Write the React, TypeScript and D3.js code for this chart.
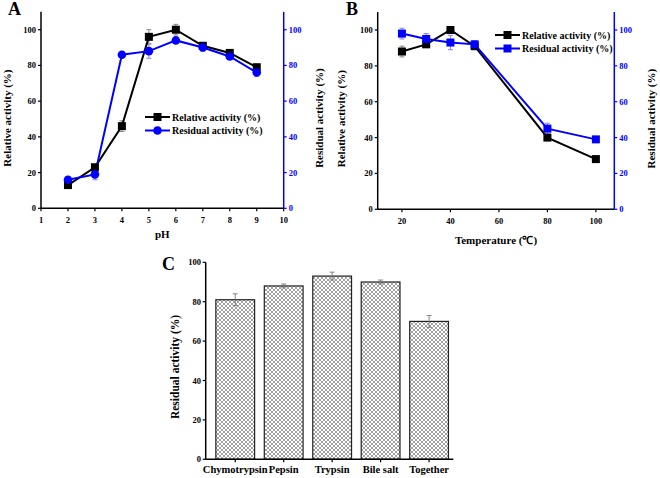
import React from "react";
import * as d3 from "d3";

// Panel A data
const phValues = [2, 3, 4, 5, 6, 7, 8, 9];
const phRelative = [13, 23, 46, 96, 100, 91, 87, 79];
const phRelativeErr = [1.5, 1.5, 3, 4, 3, 1.5, 1.5, 1.5];
const phResidual = [16, 19, 86, 88, 94, 90, 85, 76];
const phResidualErr = [1.5, 3, 1, 4, 1.5, 2, 1.5, 2];
const phTicks = [1, 2, 3, 4, 5, 6, 7, 8, 9, 10];

// Panel B data
const tempValues = [20, 30, 40, 50, 80, 100];
const tempRelative = [88, 92, 100, 91, 40, 28];
const tempRelativeErr = [3, 1.5, 1, 2, 1, 1];
const tempResidual = [98, 95, 93, 92, 45, 39];
const tempResidualErr = [3, 3, 4, 2, 3, 1];
const tempTicks = [20, 40, 60, 80, 100];

// Panel C data
const enzymes = ["Chymotrypsin", "Pepsin", "Trypsin", "Bile salt", "Together"];
const enzymeResidual = [81, 88, 93, 90, 70];
const enzymeErr = [3, 1, 2, 1, 3];

const yTicks = [0, 20, 40, 60, 80, 100];

const FONT = "'Liberation Serif', 'Times New Roman', serif";
const BLUE = "#0000ff";

type Series = { x: number[]; y: number[]; err: number[] };

function DualPanel(props: {
  x0: number; x1: number; y0: number; y100: number;
  xDomain: [number, number]; xTicks: number[];
  rel: Series; res: Series; resMarker: "circle" | "square";
  xLabel: string; xLabelY: number; leftLabelX: number; rightLabelX: number;
  legendX: number; legendY: number; letter: string; letterX: number;
}) {
  const p = props;
  const x = d3.scaleLinear().domain(p.xDomain).range([p.x0, p.x1]);
  const y = d3.scaleLinear().domain([0, 100]).range([p.y0, p.y100]);
  const yTop = y(110);
  const line = d3.line<[number, number]>().x(d => x(d[0])).y(d => y(d[1]));
  const relPts = p.rel.x.map((v, i) => [v, p.rel.y[i]] as [number, number]);
  const resPts = p.res.x.map((v, i) => [v, p.res.y[i]] as [number, number]);
  const midY = (p.y0 + yTop) / 2 + 8;
  const errBars = (s: Series, color: string) =>
    s.x.map((v, i) => {
      const cx = x(v), a = y(s.y[i] + s.err[i]), b = y(s.y[i] - s.err[i]);
      return (
        <g key={i} stroke={color} strokeWidth={1}>
          <line x1={cx} x2={cx} y1={a} y2={b} />
          <line x1={cx - 2.5} x2={cx + 2.5} y1={a} y2={a} />
          <line x1={cx - 2.5} x2={cx + 2.5} y1={b} y2={b} />
        </g>
      );
    });
  const resMark = (cx: number, cy: number, k: number) =>
    p.resMarker === "circle" ? (
      <circle key={k} cx={cx} cy={cy} r={4.3} fill={BLUE} />
    ) : (
      <rect key={k} x={cx - 4} y={cy - 4} width={8} height={8} fill={BLUE} />
    );
  return (
    <g fontFamily={FONT} fontWeight="bold">
      <text x={p.letterX} y={15} fontSize={18}>{p.letter}</text>
      {/* x axis */}
      <line x1={p.x0} x2={p.x1} y1={p.y0} y2={p.y0} stroke="#000" strokeWidth={1.5} />
      {p.xTicks.map(t => (
        <g key={t}>
          <line x1={x(t)} x2={x(t)} y1={p.y0} y2={p.y0 + 3} stroke="#000" strokeWidth={1.2} />
          <text x={x(t)} y={p.y0 + 15} fontSize={8.5} textAnchor="middle">{t}</text>
        </g>
      ))}
      <text x={(p.x0 + p.x1) / 2} y={p.xLabelY} fontSize={11} textAnchor="middle">{p.xLabel}</text>
      {/* left axis */}
      <line x1={p.x0} x2={p.x0} y1={p.y0} y2={yTop} stroke="#000" strokeWidth={1.5} />
      {yTicks.map(t => (
        <g key={t}>
          <line x1={p.x0 - 3} x2={p.x0} y1={y(t)} y2={y(t)} stroke="#000" strokeWidth={1.2} />
          <text x={p.x0 - 5} y={y(t) + 3} fontSize={8.5} textAnchor="end">{t}</text>
        </g>
      ))}
      <text transform={`translate(${p.leftLabelX},${midY}) rotate(-90)`} fontSize={11} textAnchor="middle">Relative activity (%)</text>
      {/* right axis */}
      <line x1={p.x1} x2={p.x1} y1={p.y0} y2={yTop} stroke={BLUE} strokeWidth={1.5} />
      {yTicks.map(t => (
        <g key={t}>
          <line x1={p.x1} x2={p.x1 + 3} y1={y(t)} y2={y(t)} stroke={BLUE} strokeWidth={1.2} />
          <text x={p.x1 + 5} y={y(t) + 3} fontSize={8.5} fill={BLUE}>{t}</text>
        </g>
      ))}
      <text transform={`translate(${p.rightLabelX},${midY}) rotate(-90)`} fontSize={11} textAnchor="middle">Residual activity (%)</text>
      {/* series */}
      {errBars(p.rel, "#888")}
      {errBars(p.res, "#8080ff")}
      <path d={line(relPts) || ""} fill="none" stroke="#000" strokeWidth={2} />
      <path d={line(resPts) || ""} fill="none" stroke={BLUE} strokeWidth={2} />
      {relPts.map((d, i) => (
        <rect key={i} x={x(d[0]) - 4} y={y(d[1]) - 4} width={8} height={8} fill="#000" />
      ))}
      {resPts.map((d, i) => resMark(x(d[0]), y(d[1]), i))}
      {/* legend */}
      <g>
        <line x1={p.legendX} x2={p.legendX + 25} y1={p.legendY} y2={p.legendY} stroke="#000" strokeWidth={2} />
        <rect x={p.legendX + 8.5} y={p.legendY - 4} width={8} height={8} fill="#000" />
        <text x={p.legendX + 27} y={p.legendY + 3.5} fontSize={10}>Relative activity (%)</text>
        <line x1={p.legendX} x2={p.legendX + 25} y1={p.legendY + 13.5} y2={p.legendY + 13.5} stroke={BLUE} strokeWidth={2} />
        {resMark(p.legendX + 12.5, p.legendY + 13.5, 99)}
        <text x={p.legendX + 27} y={p.legendY + 17} fontSize={10}>Residual activity (%)</text>
      </g>
    </g>
  );
}

function BarPanel() {
  const y0 = 459.3, y100 = 262.3;
  const xb = d3.scaleBand<string>().domain(enzymes).range([211, 453.3]).paddingInner(0.2).paddingOuter(0.1);
  const y = d3.scaleLinear().domain([0, 100]).range([y0, y100]);
  return (
    <g fontFamily={FONT} fontWeight="bold">
      <defs>
        <pattern id="hatch" width={4} height={4} patternUnits="userSpaceOnUse">
          <rect width={4} height={4} fill="#fff" />
          <path d="M0,0 L4,4 M4,0 L0,4" stroke="#8a8a8a" strokeWidth={0.8} />
        </pattern>
      </defs>
      <text x={162} y={270} fontSize={18}>C</text>
      {enzymes.map((e, i) => {
        const bx = xb(e) as number;
        const cx = bx + xb.bandwidth() / 2;
        const a = y(enzymeResidual[i] + enzymeErr[i]);
        const b = y(enzymeResidual[i] - enzymeErr[i]);
        return (
          <g key={e}>
            <rect x={bx} y={y(enzymeResidual[i])} width={xb.bandwidth()} height={y0 - y(enzymeResidual[i])}
              fill="url(#hatch)" stroke="#222" strokeWidth={1.2} />
            <g stroke="#777" strokeWidth={0.9}>
              <line x1={cx} x2={cx} y1={a} y2={b} />
              <line x1={cx - 2.5} x2={cx + 2.5} y1={a} y2={a} />
              <line x1={cx - 2.5} x2={cx + 2.5} y1={b} y2={b} />
            </g>
            <line x1={cx} x2={cx} y1={y0} y2={y0 + 3} stroke="#000" strokeWidth={1.2} />
            <text x={cx} y={473} fontSize={10.5} textAnchor="middle">{e}</text>
          </g>
        );
      })}
      <line x1={205.7} x2={453.3} y1={y0} y2={y0} stroke="#000" strokeWidth={1.5} />
      <line x1={205.7} x2={205.7} y1={y0} y2={y100} stroke="#000" strokeWidth={1.5} />
      {yTicks.map(t => (
        <g key={t}>
          <line x1={202.7} x2={205.7} y1={y(t)} y2={y(t)} stroke="#000" strokeWidth={1.2} />
          <text x={201} y={y(t) + 3} fontSize={8.5} textAnchor="end">{t}</text>
        </g>
      ))}
      <text transform={`translate(179,367) rotate(-90)`} fontSize={11.5} textAnchor="middle">Residual activity (%)</text>
    </g>
  );
}

export default function App() {
  return (
    <svg width={660} height={478} style={{ position: "absolute", left: 0, top: 0, background: "#fff" }}>
      <rect width={660} height={478} fill="#fff" />
      <DualPanel x0={41} x1={283.7} y0={208.3} y100={29.7} xDomain={[1, 10]} xTicks={phTicks}
        rel={{ x: phValues, y: phRelative, err: phRelativeErr }}
        res={{ x: phValues, y: phResidual, err: phResidualErr }}
        resMarker="circle" xLabel="pH" xLabelY={238} leftLabelX={11} rightLabelX={323}
        legendX={145} legendY={117} letter="A" letterX={8} />
      <DualPanel x0={377.7} x1={614.3} y0={209.3} y100={30} xDomain={[10, 107.6]} xTicks={tempTicks}
        rel={{ x: tempValues, y: tempRelative, err: tempRelativeErr }}
        res={{ x: tempValues, y: tempResidual, err: tempResidualErr }}
        resMarker="square" xLabel="Temperature (℃)" xLabelY={244} leftLabelX={345} rightLabelX={655}
        legendX={495} legendY={35} letter="B" letterX={346} />
      <BarPanel />
    </svg>
  );
}
